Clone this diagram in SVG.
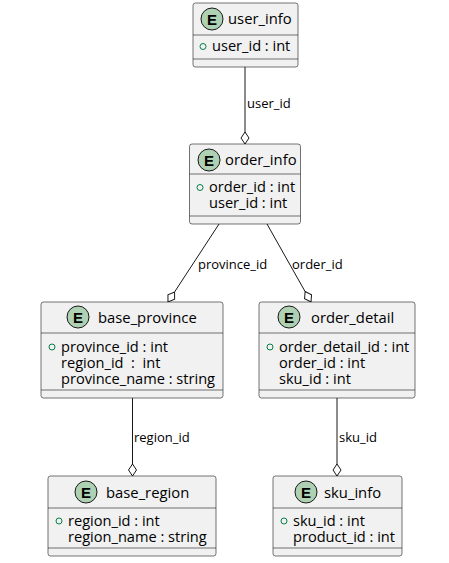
<svg xmlns="http://www.w3.org/2000/svg" width="449" height="563" viewBox="0 0 449 563">
<style>
.box{fill:#F1F1F1;stroke:#181818;stroke-width:0.6}
.sep{stroke:#181818;stroke-width:0.6}
.ec{fill:#ADD1B2;stroke:#181818;stroke-width:1}
.el{font-family:"Liberation Sans",Arial,sans-serif;font-size:15px;font-weight:bold;fill:#000;text-anchor:middle}
.t{font-family:"Open Sans","Liberation Sans",sans-serif;font-size:14.8px;fill:#000}
.a{font-family:"Open Sans","Liberation Sans",sans-serif;font-size:14.6px;fill:#000}
.pk{fill:none;stroke:#038048;stroke-width:1}
.lbl{font-family:"Open Sans","Liberation Sans",sans-serif;font-size:13px;fill:#000}
.ln{stroke:#181818;stroke-width:1;fill:none;marker-end:url(#dia)}
</style>
<defs>
<marker id="dia" markerUnits="userSpaceOnUse" markerWidth="14" markerHeight="10" refX="12" refY="5" orient="auto" viewBox="0 0 14 10">
<path d="M0,5 L6,1 L12,5 L6,9 Z" fill="#FFFFFF" stroke="#181818" stroke-width="1"/>
</marker>
</defs>
<g id="connectors">
<line class="ln" x1="245" y1="67" x2="245" y2="144"/>
<text class="lbl" x="247" y="108">user_id</text>
<line class="ln" x1="219" y1="224" x2="168" y2="302"/>
<text class="lbl" x="198" y="269">province_id</text>
<line class="ln" x1="267" y1="224" x2="311" y2="302"/>
<text class="lbl" x="292" y="269">order_id</text>
<line class="ln" x1="132.5" y1="398" x2="132.5" y2="476"/>
<text class="lbl" x="134" y="442">region_id</text>
<line class="ln" x1="337" y1="398" x2="337" y2="476"/>
<text class="lbl" x="339" y="442">sku_id</text>
</g>
<g id="user_info">
<rect class="box" x="193" y="3" width="105" height="64" rx="2.5"/>
<circle class="ec" cx="212" cy="19" r="11"/>
<text class="el" x="212" y="24.5">E</text>
<text class="t" x="228" y="24">user_info</text>
<line class="sep" x1="193" y1="35" x2="298" y2="35"/>
<circle class="pk" cx="203" cy="46.5" r="3"/>
<text class="a" x="212" y="51">user_id : int</text>
<line class="sep" x1="193" y1="59" x2="298" y2="59"/>
</g>
<g id="order_info">
<rect class="box" x="189.5" y="144" width="111" height="80" rx="2.5"/>
<circle class="ec" cx="209" cy="160" r="11"/>
<text class="el" x="209" y="165.5">E</text>
<text class="t" x="225" y="165">order_info</text>
<line class="sep" x1="189.5" y1="174" x2="300.5" y2="174"/>
<circle class="pk" cx="200" cy="187.5" r="3"/>
<text class="a" x="209" y="192">order_id : int</text>
<text class="a" x="209" y="208">user_id : int</text>
<line class="sep" x1="189.5" y1="216" x2="300.5" y2="216"/>
</g>
<g id="base_province">
<rect class="box" x="41" y="302" width="182" height="96" rx="2.5"/>
<circle class="ec" cx="78" cy="317" r="11"/>
<text class="el" x="78" y="322.5">E</text>
<text class="t" x="98" y="323">base_province</text>
<line class="sep" x1="41" y1="333" x2="223" y2="333"/>
<circle class="pk" cx="52" cy="347" r="3"/>
<text class="a" x="61" y="352">province_id : int</text>
<text class="a" x="61" y="368" xml:space="preserve">region_id  :  int</text>
<text class="a" x="61" y="384">province_name : string</text>
<line class="sep" x1="41" y1="390" x2="223" y2="390"/>
</g>
<g id="order_detail">
<rect class="box" x="259" y="302" width="156" height="96" rx="2.5"/>
<circle class="ec" cx="289" cy="317" r="11"/>
<text class="el" x="289" y="322.5">E</text>
<text class="t" x="311" y="323">order_detail</text>
<line class="sep" x1="259" y1="333" x2="415" y2="333"/>
<circle class="pk" cx="270" cy="347" r="3"/>
<text class="a" x="279" y="352">order_detail_id : int</text>
<text class="a" x="279" y="368">order_id : int</text>
<text class="a" x="279" y="384">sku_id : int</text>
<line class="sep" x1="259" y1="390" x2="415" y2="390"/>
</g>
<g id="base_region">
<rect class="box" x="48" y="476" width="168" height="80" rx="2.5"/>
<circle class="ec" cx="86" cy="492" r="11"/>
<text class="el" x="86" y="497.5">E</text>
<text class="t" x="106" y="498">base_region</text>
<line class="sep" x1="48" y1="508" x2="216" y2="508"/>
<circle class="pk" cx="59" cy="521" r="3"/>
<text class="a" x="68" y="526">region_id : int</text>
<text class="a" x="68" y="542">region_name : string</text>
<line class="sep" x1="48" y1="548" x2="216" y2="548"/>
</g>
<g id="sku_info">
<rect class="box" x="273" y="476" width="129" height="80" rx="2.5"/>
<circle class="ec" cx="306" cy="492" r="11"/>
<text class="el" x="306" y="497.5">E</text>
<text class="t" x="324" y="498">sku_info</text>
<line class="sep" x1="273" y1="508" x2="402" y2="508"/>
<circle class="pk" cx="284" cy="521" r="3"/>
<text class="a" x="293" y="526">sku_id : int</text>
<text class="a" x="293" y="542">product_id : int</text>
<line class="sep" x1="273" y1="548" x2="402" y2="548"/>
</g>
</svg>
